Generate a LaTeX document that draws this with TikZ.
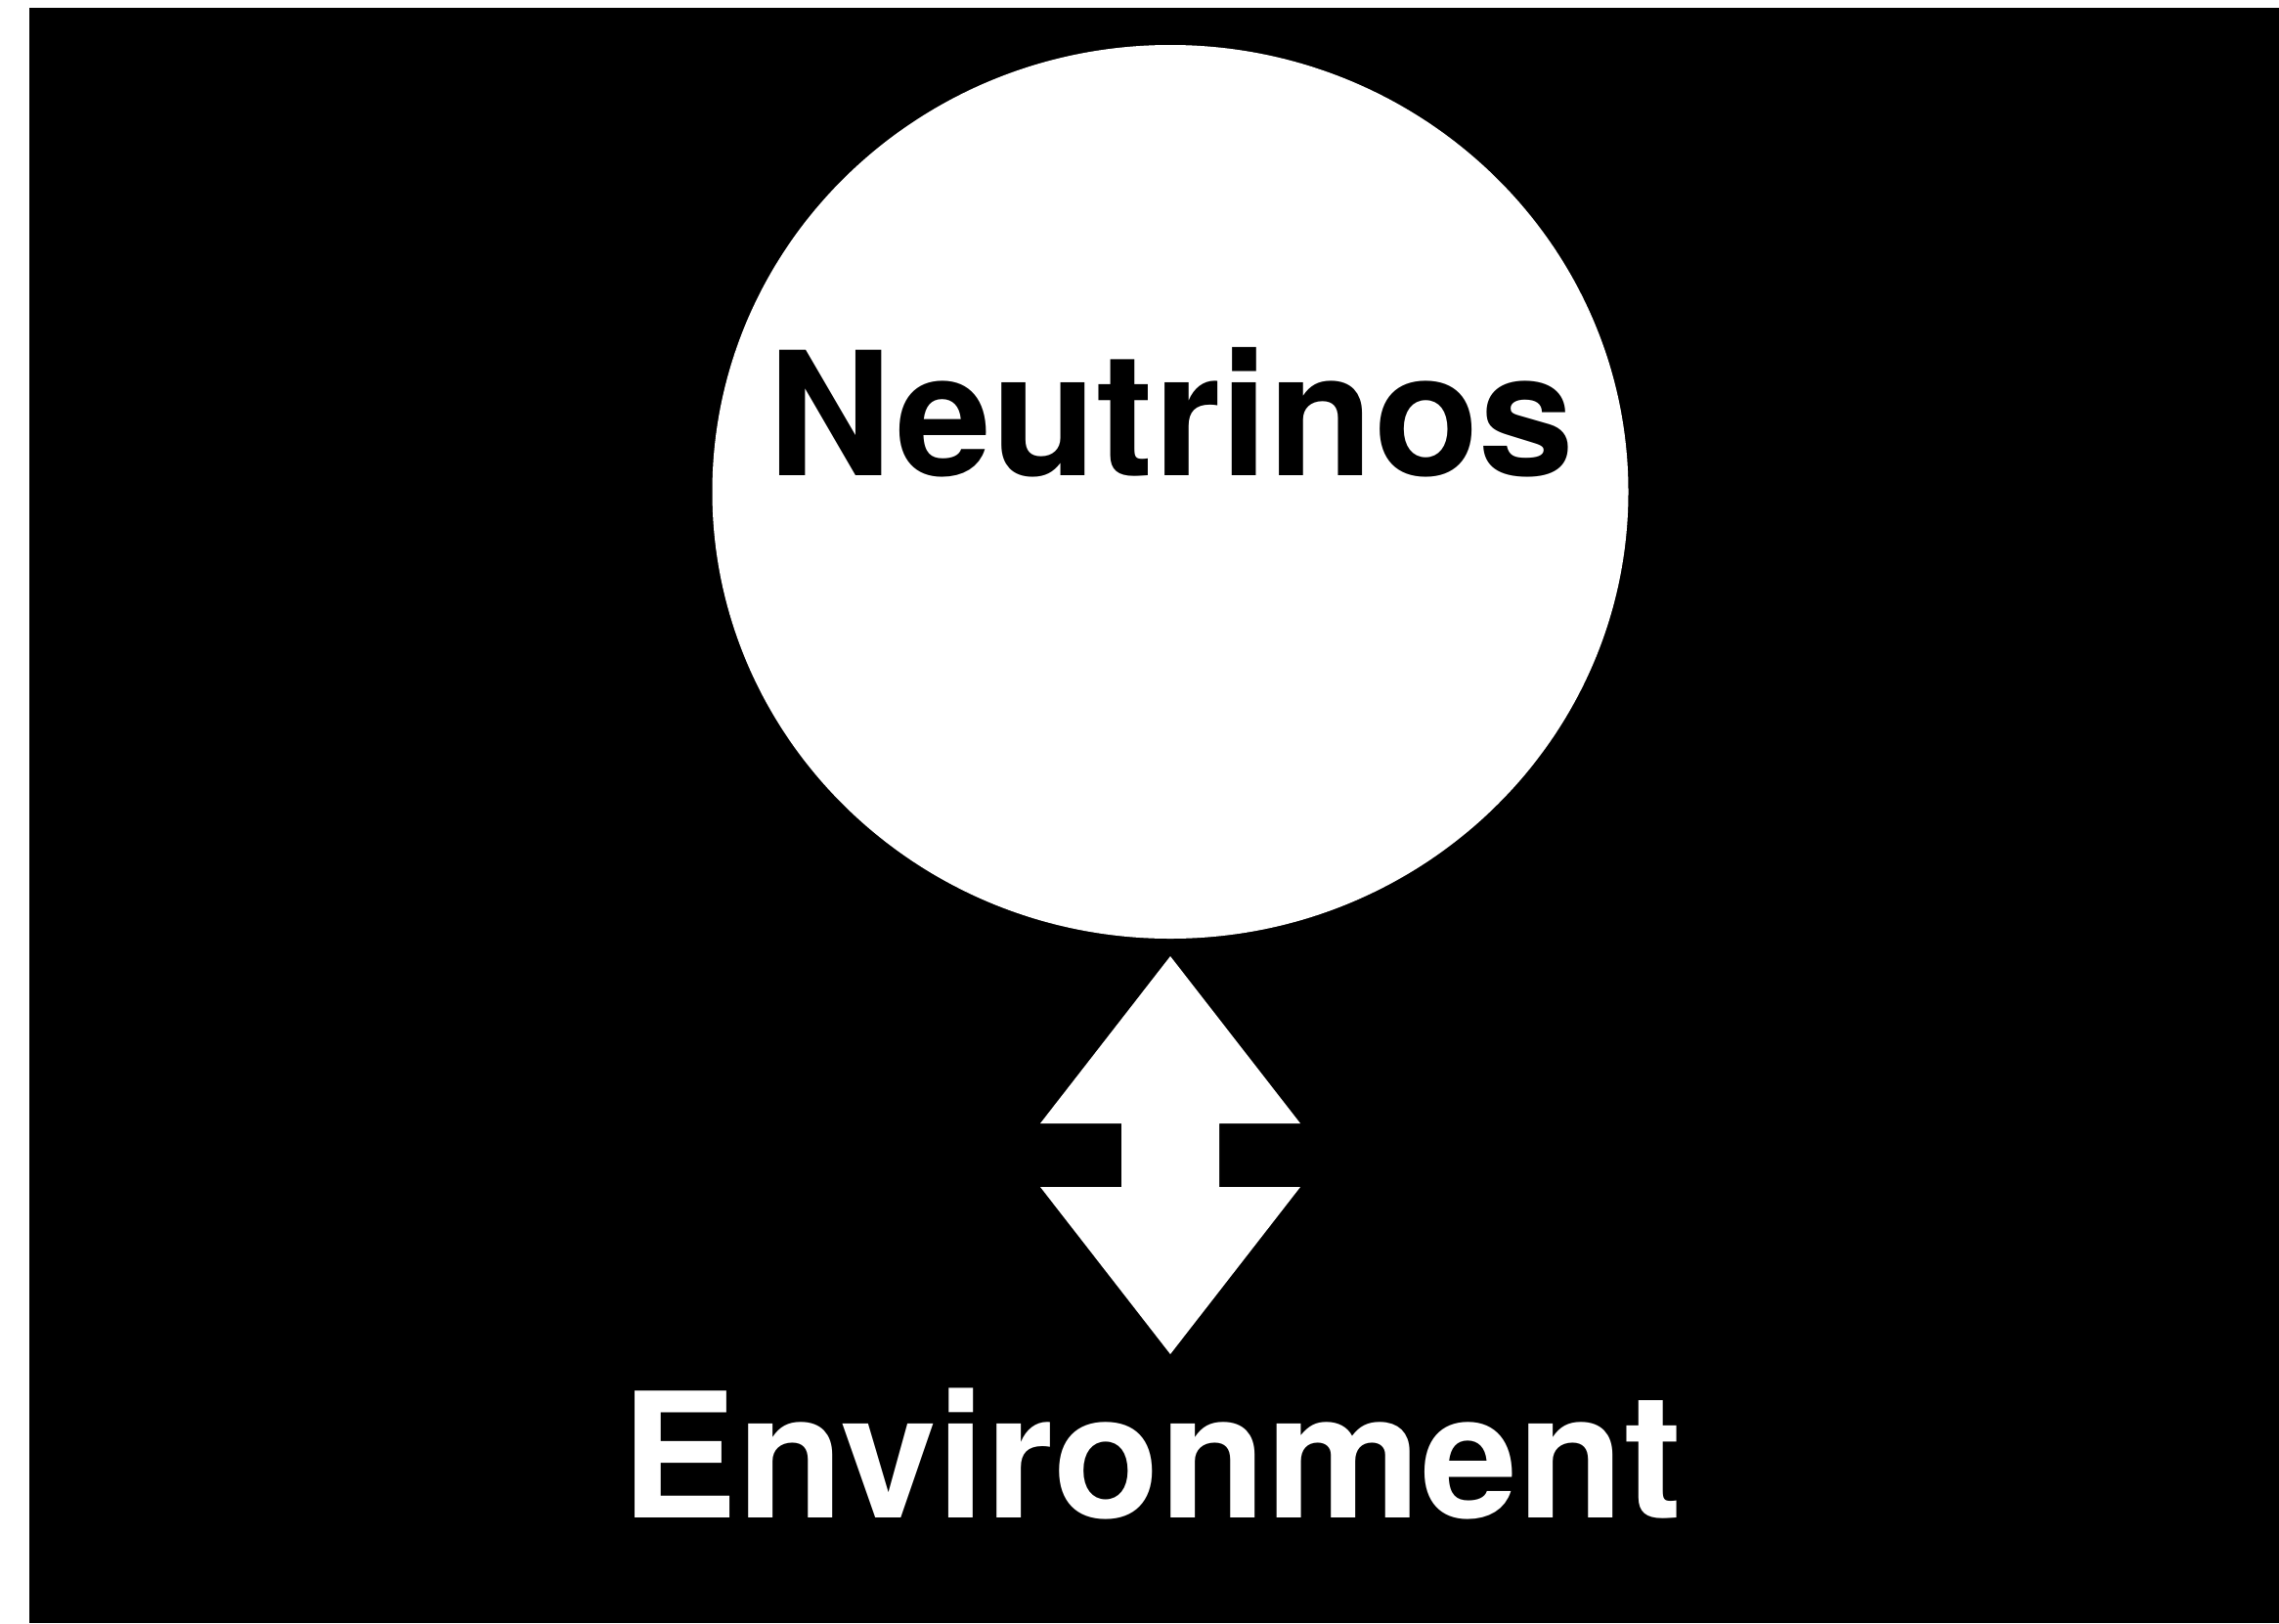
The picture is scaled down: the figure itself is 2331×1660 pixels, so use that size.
\documentclass[tikz,border=0pt]{standalone}
\usepackage{fontspec}
\setmainfont{TeX Gyre Heros}
\usetikzlibrary{shapes.geometric}
\tikzset{
  blob/.style={ellipse, fill=white, draw=none, inner sep=0pt, minimum width=937pt, minimum height=914pt},
  bigtext/.style={anchor=base, inner sep=0pt, font=\bfseries\fontsize{176}{200}\selectfont},
  arrowshape/.style={fill=white, draw=none}
}
\begin{document}
\begin{tikzpicture}[x=1pt, y=-1pt]
\useasboundingbox (0,0) rectangle (2331,1660);
\fill[white] (0,0) rectangle (2331,1660);
\fill[black] (30,8) rectangle (2331,1660);
\node[blob] (nu) at (1197,503) {};
\node[bigtext, text=black] (nutext) at (1198,486) {Neutrinos};
\node[bigtext, text=white, font=\bfseries\fontsize{178}{200}\selectfont] (env) at (1178,1552) {Environment};
\coordinate (tipA) at (1197,978);
\coordinate (tipB) at (1197,1385);
\fill[arrowshape] (tipA) -- ++(133,171) -- ++(-83,0) -- ++(0,65) -- ++(83,0)
  -- (tipB) -- ++(-133,-171) -- ++(83,0) -- ++(0,-65) -- ++(-83,0) -- cycle;
\end{tikzpicture}
\end{document}
